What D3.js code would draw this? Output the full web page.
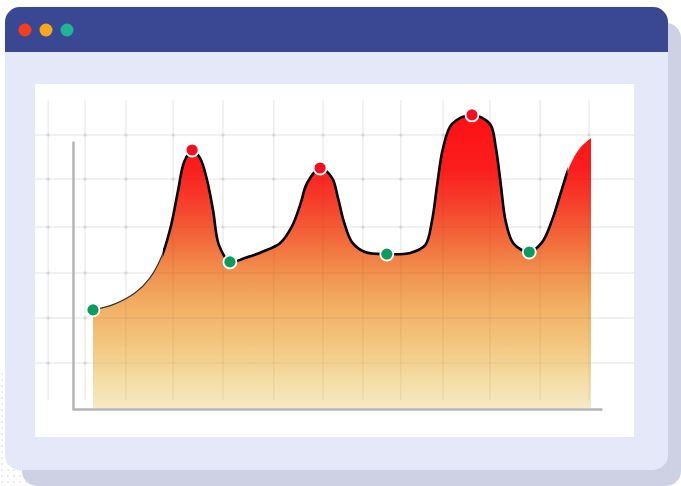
<!DOCTYPE html>
<html><head><meta charset="utf-8">
<script src="https://cdn.jsdelivr.net/npm/d3@7"></script>
<style>html,body{margin:0;padding:0;background:#fff;}svg{display:block;}</style>
</head><body>
<svg id="chart" width="681" height="486"></svg>
<script>
// ---- data (x: 0..100 horizontal units, y: 0..100 value units) ----
const curveX = [0, 4.4, 8.4, 11.4, 13.9, 15.7, 17.1, 18.3, 19.9, 21.5, 22.9, 24.1, 25.3, 27.5, 30.5, 33.9, 37.6, 40, 41.6, 43, 45.6, 48, 49.2, 50.4, 52, 54.6, 59, 63.7, 66.7, 68.1, 69.1, 70.3, 72.1, 76.1, 79.7, 80.9, 81.9, 82.9, 84.5, 87.6, 90.2, 92.2, 93.8, 95.8, 97.8, 100];
const curveY = [32.7, 34.7, 38.3, 43.3, 51, 61, 72.7, 82, 86, 83.3, 76, 66, 54.3, 48.7, 50, 52, 55, 60.7, 67.7, 75, 80, 76.7, 70, 62, 55.3, 52, 51.3, 51.7, 54.3, 62.7, 74.3, 86.7, 94.7, 97.7, 94.7, 86.7, 74.3, 62, 54.7, 52, 55.3, 62.7, 71, 81, 86.7, 90];
const peakX = [19.9, 45.6, 76.1];
const peakY = [86, 80, 97.7];
const troughX = [0, 27.5, 59, 87.6];
const troughY = [32.7, 48.7, 51.3, 52];
const gridX = [-9.0, -1.6, 6.6, 16.1, 26.1, 36.3, 46.2, 54.2, 61.8, 70.3, 79.7, 89.8, 99.6];
const gridY = [91, 76.3, 60.3, 45, 30, 15];
const lineThinEnd = 14;   // x where the outline thickens
const lineEnd = 95.3;     // x where the outline stops
const dotColors = ["#f2401c", "#f5a81c", "#1db595"];

const svg = d3.select("#chart");
const defs = svg.append("defs");

const x = d3.scaleLinear().domain([0, 100]).range([93, 591]);
const y = d3.scaleLinear().domain([0, 100]).range([408, 108]);

// dotted pattern
const pat = defs.append("pattern").attr("id","dots").attr("width",6).attr("height",6).attr("patternUnits","userSpaceOnUse");
pat.append("circle").attr("cx",2).attr("cy",2).attr("r",0.7).attr("fill","#c9ccd6");
svg.append("rect").attr("x",0).attr("y",372).attr("width",30).attr("height",114).attr("fill","url(#dots)");

// window shadow
svg.append("rect").attr("x",22).attr("y",23).attr("width",659).attr("height",463).attr("rx",15).attr("fill","#cdd1e3");
// window body
svg.append("rect").attr("x",5).attr("y",7).attr("width",663).attr("height",463).attr("rx",15).attr("fill","#e4e8f9");
// header
const hdrClip = defs.append("clipPath").attr("id","hdr");
hdrClip.append("rect").attr("x",5).attr("y",7).attr("width",663).attr("height",45);
svg.append("rect").attr("x",5).attr("y",7).attr("width",663).attr("height",80).attr("rx",15)
  .attr("fill","#3a4894").attr("clip-path","url(#hdr)");
svg.selectAll("circle.win").data(dotColors).join("circle").attr("class","win")
  .attr("cx",(d,i)=>25+i*21).attr("cy",30).attr("r",6.5).attr("fill",d=>d);

// panel
svg.append("rect").attr("x",35).attr("y",84).attr("width",599).attr("height",353).attr("fill","#ffffff");

// gradient
const grad = defs.append("linearGradient").attr("id","fillGrad").attr("gradientUnits","userSpaceOnUse")
  .attr("x1",0).attr("x2",0).attr("y1",y(100)).attr("y2",y(0));
[[0,"#ff0f14"],[0.2,"#fb1d1d"],[0.33,"#f5442e"],[0.45,"#f26e3c"],[0.55,"#f0914f"],[0.65,"#f2ad62"],[0.78,"#f3c57e"],[0.9,"#f4dca3"],[1,"#f6e9c4"]]
  .forEach(s=>grad.append("stop").attr("offset",s[0]).attr("stop-color",s[1]));

const pts = curveX.map((v,i)=>[v, curveY[i]]);
const crv = d3.curveCatmullRom.alpha(0.5);

function drawGrid(stroke, dotFill){
  const g = svg.append("g").attr("stroke",stroke).attr("stroke-width",1.5);
  g.selectAll("line.v").data(gridX).join("line").attr("class","v")
    .attr("x1",d=>x(d)).attr("x2",d=>x(d)).attr("y1",y(102.7)).attr("y2",y(2.7));
  g.selectAll("line.h").data(gridY).join("line").attr("class","h")
    .attr("x1",35).attr("x2",634).attr("y1",d=>y(d)).attr("y2",d=>y(d));
  const inter = [];
  gridX.forEach(gx=>gridY.forEach(gy=>inter.push([gx,gy])));
  svg.append("g").selectAll("circle").data(inter).join("circle")
    .attr("cx",d=>x(d[0])).attr("cy",d=>y(d[1])).attr("r",2).attr("fill",dotFill);
}
drawGrid("rgba(0,0,0,0.075)", "rgba(0,0,0,0.06)");

const area = d3.area().x(d=>x(d[0])).y0(y(0)).y1(d=>y(d[1])).curve(crv);
svg.append("path").datum(pts).attr("d",area).attr("fill","url(#fillGrad)");

// faint grid showing through the fill
const fillClip = defs.append("clipPath").attr("id","fillClip");
fillClip.append("path").datum(pts).attr("d",area);
const gg = svg.append("g").attr("clip-path","url(#fillClip)");
const g2 = gg.append("g").attr("stroke","rgba(120,70,20,0.07)").attr("stroke-width",1.5);
g2.selectAll("line.v").data(gridX).join("line")
  .attr("x1",d=>x(d)).attr("x2",d=>x(d)).attr("y1",y(102.7)).attr("y2",y(2.7));
g2.selectAll("line.h").data(gridY).join("line")
  .attr("x1",35).attr("x2",634).attr("y1",d=>y(d)).attr("y2",d=>y(d));

// axes
const yAx = d3.scaleLinear().domain([0,1]).range([410,141]);
const xAx = d3.scaleLinear().domain([0,1]).range([73,602]);
svg.append("g").attr("transform","translate(73,0)")
  .call(d3.axisLeft(yAx).ticks(0).tickSizeOuter(0))
  .call(s=>s.select(".domain").attr("stroke","#b4b4ba").attr("stroke-width",2.5));
svg.append("g").attr("transform","translate(0,409)")
  .call(d3.axisBottom(xAx).ticks(0).tickSizeOuter(0))
  .call(s=>s.select(".domain").attr("stroke","#b4b4ba").attr("stroke-width",2.5));

// outline
const line = d3.line().x(d=>x(d[0])).y(d=>y(d[1])).curve(crv);
defs.append("clipPath").attr("id","thin").append("rect")
  .attr("x",x(0)-2).attr("y",0).attr("width",x(lineThinEnd)-x(0)+2).attr("height",486);
defs.append("clipPath").attr("id","thick").append("rect")
  .attr("x",x(lineThinEnd)).attr("y",0).attr("width",x(lineEnd)-x(lineThinEnd)).attr("height",486);
svg.append("path").datum(pts).attr("d",line).attr("fill","none").attr("stroke","#333")
  .attr("stroke-width",1.2).attr("clip-path","url(#thin)");
svg.append("path").datum(pts).attr("d",line).attr("fill","none").attr("stroke","#000")
  .attr("stroke-width",2.6).attr("clip-path","url(#thick)");

// markers
svg.append("g").selectAll("circle").data(peakX.map((v,i)=>[v,peakY[i]])).join("circle")
  .attr("cx",d=>x(d[0])).attr("cy",d=>y(d[1])).attr("r",6.5)
  .attr("fill","#f20f22").attr("stroke","#fff").attr("stroke-width",1.8);
svg.append("g").selectAll("circle").data(troughX.map((v,i)=>[v,troughY[i]])).join("circle")
  .attr("cx",d=>x(d[0])).attr("cy",d=>y(d[1])).attr("r",6.5)
  .attr("fill","#0c9c5f").attr("stroke","#fff").attr("stroke-width",1.8);
</script>
</body></html>
